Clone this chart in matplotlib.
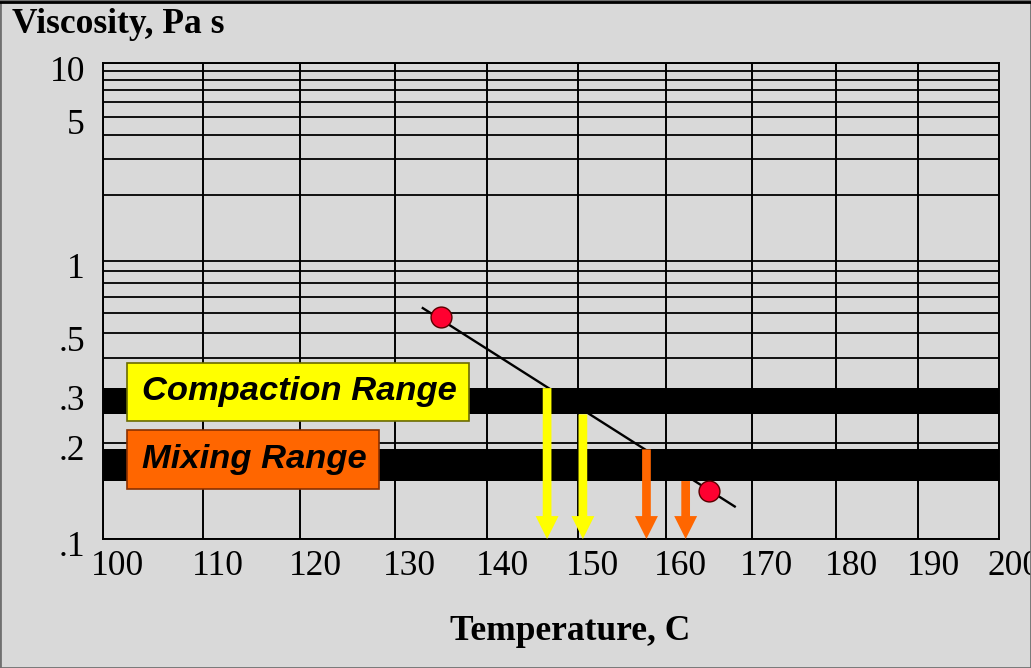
#!/usr/bin/env python3
import numpy as np
import matplotlib
matplotlib.use("Agg")
import matplotlib.pyplot as plt
from matplotlib.patches import Rectangle
from matplotlib.transforms import ScaledTranslation

# Measured binder viscosities (rotational viscometer)
temps = [135, 165]
visc = [0.58, 0.14]

# Fitted line, as drawn
line_temps = [133, 168]
line_visc = [0.63, 0.125]

# Target ranges, Pa s
compaction_range = (0.25, 0.31)
mixing_range = (0.15, 0.19)

# Arrows: temperature, starting viscosity
compaction_arrow_t = [146.6, 150.6]
compaction_arrow_v = [0.31, 0.25]
mixing_arrow_t = [157.8, 162.3]
mixing_arrow_v = [0.19, 0.15]

xticks = list(range(100, 201, 10))
yticks = [0.1, 0.2, 0.3, 0.5, 1, 5, 10]
ytick_labels = [".1", ".2", ".3", ".5", "1", "5", "10"]
ygrid = [v / 10 for v in range(1, 10)] + list(range(1, 11))

BG = "#d9d9d9"
SERIF = "Liberation Serif"
SANS = "Liberation Sans"


# log temperature (absolute) and log-log viscosity (cP), like ASTM charts
def fwd_x(t):
  return np.log10(np.asarray(t, dtype=float) + 273.15)

def inv_x(u):
  return 10 ** np.asarray(u, dtype=float) - 273.15

def fwd_y(v):
  v = np.maximum(np.asarray(v, dtype=float), 0.0012)
  return np.log10(np.log10(v * 1000))

def inv_y(u):
  return 10 ** (10 ** np.asarray(u, dtype=float)) / 1000


fig = plt.figure(figsize=(10.31, 6.68), dpi=100, facecolor=BG)
ax = fig.add_axes([103 / 1031, 129 / 668, 896 / 1031, 476 / 668])
ax.set_facecolor(BG)
ax.set_xscale("function", functions=(fwd_x, inv_x))
ax.set_yscale("function", functions=(fwd_y, inv_y))
ax.set_xlim(100, 200)
ax.set_ylim(0.1, 10)

# grid
for t in xticks:
  ax.axvline(t, color="black", lw=1.4, zorder=1)
for v in ygrid:
  ax.axhline(v, color="black", lw=1.3, zorder=1)

# bands
ax.axhspan(*compaction_range, color="black", lw=0, zorder=2)
ax.axhspan(*mixing_range, color="black", lw=0, zorder=2)

# fit line and points
ax.plot(line_temps, line_visc, color="black", lw=1.7, zorder=3)
ax.plot(temps, visc, "o", ms=15, mfc="#ff0030", mec="#5a0000", mew=1, zorder=5)

# arrows down to the temperature axis
def arrow(t, v, color):
  ax.annotate("", xy=(t, 0.1), xytext=(t, v),
              arrowprops=dict(arrowstyle="simple,head_length=1.0,head_width=1.0,tail_width=0.38",
                              fc=color, ec="none", shrinkA=0, shrinkB=0, mutation_scale=16.5),
              zorder=4, annotation_clip=False)

for t, v in zip(compaction_arrow_t, compaction_arrow_v):
  arrow(t, v, "#ffff00")
for t, v in zip(mixing_arrow_t, mixing_arrow_v):
  arrow(t, v, "#ff6600")

# range labels
ax.add_patch(Rectangle((0.0268, 0.248), 0.3817, 0.1218, transform=ax.transAxes,
                       fc="#ffff00", ec="#6b6b00", lw=1.2, zorder=6))
ax.add_patch(Rectangle((0.0268, 0.105), 0.2813, 0.124, transform=ax.transAxes,
                       fc="#ff6600", ec="#8a3000", lw=1.2, zorder=6))
ax.text(0.0435, 0.309, "Compaction Range", transform=ax.transAxes, va="center", ha="left",
        fontsize=24.8, fontweight="bold", fontstyle="italic", family=SANS, zorder=7)
ax.text(0.0435, 0.167, "Mixing Range", transform=ax.transAxes, va="center", ha="left",
        fontsize=24.8, fontweight="bold", fontstyle="italic", family=SANS, zorder=7)

# ticks
ax.set_xticks(xticks)
ax.set_xticklabels([str(t) for t in xticks])
ax.set_yticks(yticks)
ax.set_yticklabels(ytick_labels)
ax.yaxis.set_minor_locator(matplotlib.ticker.NullLocator())
ax.xaxis.set_minor_locator(matplotlib.ticker.NullLocator())
ax.tick_params(axis="both", length=0, labelsize=25.5)
ax.tick_params(axis="y", pad=13)
ax.tick_params(axis="x", pad=8)
for lab in ax.get_xticklabels():
  lab.set_family(SERIF)
  lab.set_transform(lab.get_transform() + ScaledTranslation(0.15, 0, fig.dpi_scale_trans))
for lab in ax.get_yticklabels():
  lab.set_family(SERIF)
  lab.set_transform(lab.get_transform() + ScaledTranslation(0, -0.05, fig.dpi_scale_trans))

for s in ax.spines.values():
  s.set_color("black")
  s.set_linewidth(1.4)

fig.text(12 / 1031, 1 - 8 / 668, "Viscosity, Pa s", ha="left", va="top",
         fontsize=25.5, fontweight="bold", family=SERIF)
fig.text(570 / 1031, 1 - 632 / 668, "Temperature, C", ha="center", va="center",
         fontsize=25.5, fontweight="bold", family=SERIF)

# frame round the picture
fig.add_artist(Rectangle((0, 0), 1, 1, transform=fig.transFigure, fill=False,
                         ec="#707070", lw=2))
fig.add_artist(plt.Line2D([0, 1], [1 - 2 / 668, 1 - 2 / 668], transform=fig.transFigure,
                          color="black", lw=2))

fig.savefig("out.png", dpi=100, facecolor=BG)
